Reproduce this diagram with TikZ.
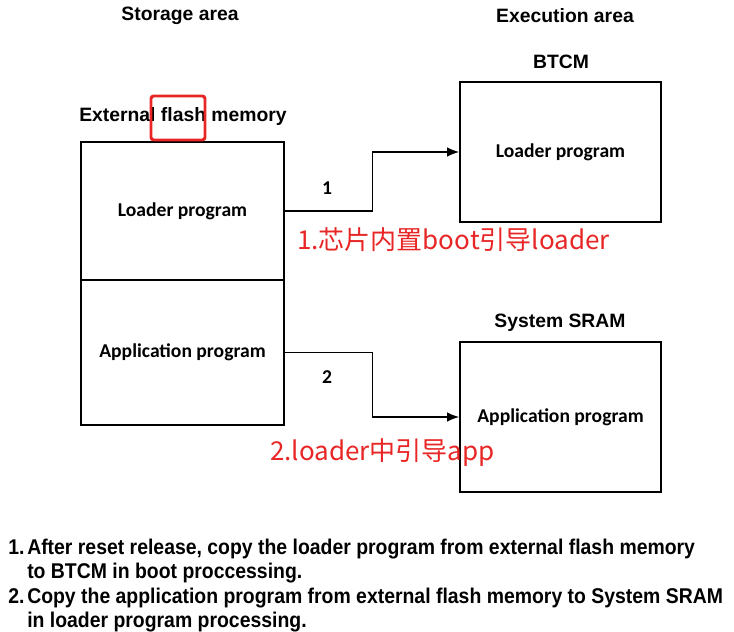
\documentclass[tikz,border=0pt]{standalone}
\usepackage{fontspec}
\usepackage{xcolor}
\usepackage{tikz}
\usetikzlibrary{positioning, arrows.meta}
\setmainfont{Liberation Sans}
\newfontfamily\boxfont{Carlito}
\newfontfamily\cjkfont{Noto Sans CJK SC}
\newfontfamily\narrowfont[FakeStretch=0.91]{Liberation Sans}
\definecolor{markred}{RGB}{232,38,38}

\begin{document}
\begin{tikzpicture}[x=0.75pt, y=-0.75pt,
    title/.style = {font=\fontsize{14.5}{16}\selectfont\bfseries, inner sep=1pt},
    membox/.style = {draw, line width=1.3pt, align=center, font=\boxfont\fontsize{14.7}{16}\selectfont\bfseries},
    num/.style = {font=\boxfont\fontsize{14.7}{16}\selectfont\bfseries},
    note/.style = {text=markred, font=\cjkfont\fontsize{19.5}{22}\selectfont, inner sep=0pt},
    flow/.style = {-{Latex[length=9pt, width=7pt]}, line width=0.9pt}]
    \useasboundingbox (0,0) rectangle (734,631);

    % storage side
    \node[title] (store) at (180,16) {Storage area};
    \node[membox, minimum width=152.25pt, minimum height=103.5pt] (ldr) at (182.5,211) {Loader program};
    \node[membox, minimum width=152.25pt, minimum height=108.75pt] (app) at (182.5,352.5) {Application program};
    \node[title] (flash) at (183,117) {External flash memory};
    \node[draw=markred, line width=2.2pt, rounded corners=2pt, minimum width=40.5pt, minimum height=33pt] (hl) at (178,118) {};

    % execution side
    \node[title] (exec) at (565,16) {Execution area};
    \node[membox, minimum width=150.75pt, minimum height=105pt] (btcm) at (560.5,152) {Loader program};
    \node[membox, minimum width=150.75pt, minimum height=112.5pt] (sram) at (560.5,417) {Application program};
    \node[title] (btcmlbl) at (561,62) {BTCM};
    \node[title] (sramlbl) at (560,323) {System SRAM};

    % copy paths
    \draw[flow] (ldr.east) -- ++(88,0) |- (btcm.west);
    \draw[flow] (app.east) -- ++(88,0) |- (sram.west);
    \node[num] (n1) at (327,188) {1};
    \node[num] (n2) at (327,377) {2};
    \node[note, anchor=west] (note1) at (297,240) {1.芯片内置boot引导loader};
    \node[note, anchor=west] (note2) at (270,453) {2.loader中引导app};

    % explanation
    \node[anchor=north west, inner sep=0pt, font=\narrowfont\fontsize{16}{18.3}\selectfont\bfseries] (expl) at (8,537) {%
        \begin{tabular}{@{}p{14.25pt}@{}l@{}}
            1. & After reset release, copy the loader program from external flash memory\\
               & to BTCM in boot proccessing.\\
            2. & Copy the application program from external flash memory to System SRAM\\
               & in loader program processing.
        \end{tabular}};
\end{tikzpicture}
\end{document}
